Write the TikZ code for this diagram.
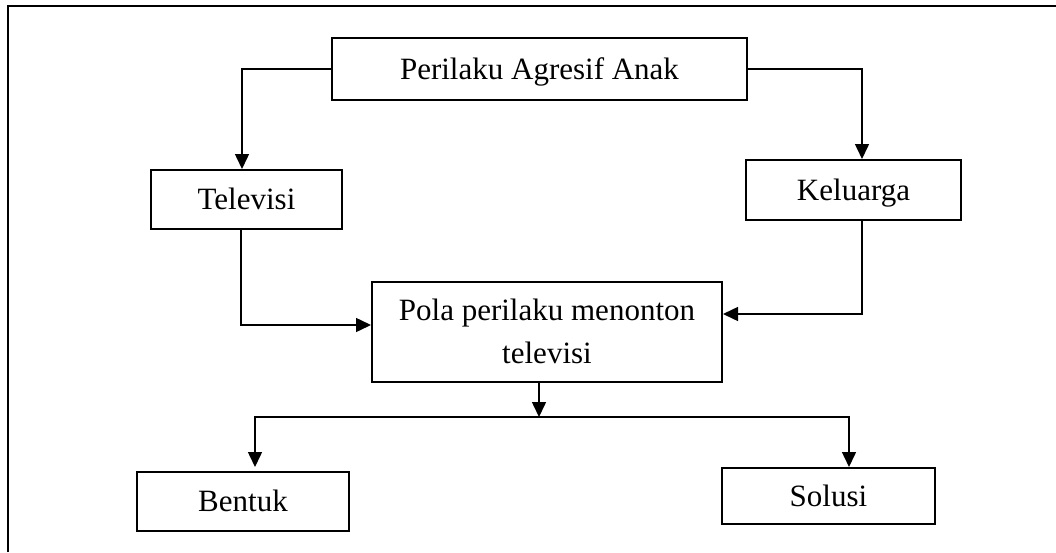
\documentclass[tikz,border=0pt]{standalone}
\usepackage{fontspec}
\setmainfont{Liberation Serif}
\usetikzlibrary{arrows.meta}
\begin{document}
\begin{tikzpicture}[x=1pt,y=-1pt,
  box/.style={draw, line width=2pt, inner sep=0pt, font=\fontsize{31}{43}\selectfont,
     text height=20pt, text depth=0pt},
  boxtwo/.style={draw, line width=2pt, inner sep=0pt, font=\fontsize{31}{43}\selectfont,
     align=center, text height=63pt, text depth=0pt},
  arr/.style={line width=1.5pt, -{Triangle[length=15pt,width=14pt]}},
  frame/.style={line width=2.5pt}]
\useasboundingbox (0,0) rectangle (1056,552);
\coordinate (fa) at (8,552);
\coordinate (fb) at (8,6);
\coordinate (fc) at (1056,6);
\draw[frame] (fa) -- (fb) -- (fc);
\node[box, minimum width=415pt, minimum height=62pt] (top) at (539.5,69) {Perilaku Agresif Anak};
\node[box, minimum width=191pt, minimum height=59pt] (tv) at (246.5,199.5) {Televisi};
\node[box, minimum width=215pt, minimum height=60pt] (kel) at (853.5,190) {Keluarga};
\node[boxtwo, minimum width=350pt, minimum height=100pt] (pola) at (547,332) {Pola perilaku menonton\\televisi};
\node[box, minimum width=212pt, minimum height=59pt] (bentuk) at (243,501.5) {Bentuk};
\node[box, minimum width=213pt, minimum height=56pt] (solusi) at (828.5,496) {Solusi};
\coordinate (br) at (539,417);
\draw[arr] (top.west) -| ([xshift=-4.5pt]tv.north);
\draw[arr] (top.east) -| ([xshift=8.5pt]kel.north);
\draw[arr] ([xshift=-5.5pt]tv.south) |- ([yshift=7pt]pola.west);
\draw[arr] ([xshift=8.5pt]kel.south) |- ([yshift=18pt]pola.east);
\draw[arr] ([xshift=-8pt]pola.south) -- (br);
\draw[arr] (br) -| ([xshift=12pt,yshift=4pt]bentuk.north);
\draw[arr] (br) -| ([xshift=20.5pt]solusi.north);
\end{tikzpicture}
\end{document}
